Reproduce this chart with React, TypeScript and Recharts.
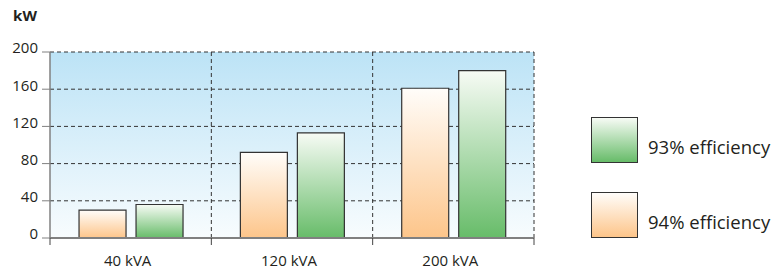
import { BarChart, Bar, XAxis, YAxis, CartesianGrid, Legend } from "recharts"

const categories = ["40 kVA", "120 kVA", "200 kVA"]
const eff94 = [30, 92, 161]
const eff93 = [36, 113, 180]
const yTicks = [0, 40, 80, 120, 160, 200]

const series = [
  { key: "eff94", name: "94% efficiency", grad: "gradOrange", top: "#fffdfa", bottom: "#fdc58a" },
  { key: "eff93", name: "93% efficiency", grad: "gradGreen", top: "#f7fbf5", bottom: "#67bc69" },
]

const FONT = "'Open Sans', sans-serif"
const TEXT = "#231f20"

const WIDTH = 782
const HEIGHT = 270
const Y_AXIS_W = 50
const LEGEND_W = 248
const LABEL_MARGIN = 17
const BAND = (WIDTH - Y_AXIS_W - LEGEND_W) / categories.length

// category label plus the small tick marks sitting on the band edges
function CategoryTick(props: any) {
  const { x, y, payload, index } = props
  const axisY = y - LABEL_MARGIN
  const left = x - BAND / 2
  const right = x + BAND / 2
  return (
    <g>
      <line x1={left} x2={left} y1={axisY} y2={axisY + 7} stroke="#444" />
      {index === categories.length - 1 && (
        <line x1={right} x2={right} y1={axisY} y2={axisY + 7} stroke="#444" />
      )}
      <text x={x - 3} y={y} dy="0.71em" textAnchor="middle" fill={TEXT} fontSize={15}>
        {payload.value}
      </text>
    </g>
  )
}

function LegendBox() {
  // legend lists the green series first
  const items = [...series].reverse()
  return (
    <div style={{ paddingTop: 117, paddingLeft: 57, fontFamily: FONT }}>
      {items.map((s) => (
        <div key={s.key} style={{ display: "flex", alignItems: "flex-start", marginBottom: 29 }}>
          <div
            style={{
              width: 45,
              height: 44,
              border: "1px solid #333",
              background: `linear-gradient(to bottom, ${s.top}, ${s.bottom})`,
            }}
          />
          <span style={{ marginLeft: 10, marginTop: 18, fontSize: 18.5, lineHeight: "24px", color: TEXT, whiteSpace: "nowrap" }}>
            {s.name}
          </span>
        </div>
      ))}
    </div>
  )
}

export default function App() {
  const data = categories.map((name, i) => ({ name, eff94: eff94[i], eff93: eff93[i] }))

  return (
    <div style={{ position: "absolute", left: 0, top: 0 }}>
      <BarChart
        width={WIDTH}
        height={HEIGHT}
        data={data}
        margin={{ top: 52, right: 0, bottom: 0, left: 0 }}
        barCategoryGap="18%"
        barGap={10}
        style={{ fontFamily: FONT }}
      >
        <defs>
          <linearGradient id="bgSky" x1="0" y1="0" x2="0" y2="1">
            <stop offset="0%" stopColor="#bce3f6" />
            <stop offset="100%" stopColor="#f8fcfe" />
          </linearGradient>
          {series.map((s) => (
            <linearGradient key={s.grad} id={s.grad} x1="0" y1="0" x2="0" y2="1">
              <stop offset="0%" stopColor={s.top} />
              <stop offset="100%" stopColor={s.bottom} />
            </linearGradient>
          ))}
        </defs>
        <CartesianGrid
          stroke="#333"
          strokeDasharray="4 3"
          fill="url(#bgSky)"
          fillOpacity={1}
          verticalCoordinatesGenerator={({ offset }: any) =>
            categories.map((_, i) => offset.left + (offset.width * (i + 1)) / categories.length)
          }
        />
        <XAxis
          dataKey="name"
          height={32}
          tickLine={false}
          tickSize={0}
          tickMargin={LABEL_MARGIN}
          axisLine={{ stroke: "#808080", strokeWidth: 2 }}
          tick={<CategoryTick />}
        />
        <YAxis
          width={Y_AXIS_W}
          domain={[0, 200]}
          ticks={yTicks}
          tickSize={8}
          tickMargin={4}
          axisLine={{ stroke: "#808080", strokeWidth: 1.5 }}
          tickLine={{ stroke: "#808080" }}
          tick={{ fill: TEXT, fontSize: 15, dy: -4 }}
          label={{ value: "kW", position: "top", offset: 31, fill: TEXT, fontSize: 15, fontWeight: 700 }}
        />
        <Legend
          layout="vertical"
          align="right"
          verticalAlign="top"
          width={LEGEND_W}
          height={HEIGHT}
          wrapperStyle={{ top: 0, right: 0, width: LEGEND_W, height: HEIGHT }}
          content={() => <LegendBox />}
        />
        {series.map((s) => (
          <Bar
            key={s.key}
            dataKey={s.key}
            name={s.name}
            fill={`url(#${s.grad})`}
            stroke="#333"
            strokeWidth={1.2}
            isAnimationActive={false}
          />
        ))}
      </BarChart>
    </div>
  )
}
